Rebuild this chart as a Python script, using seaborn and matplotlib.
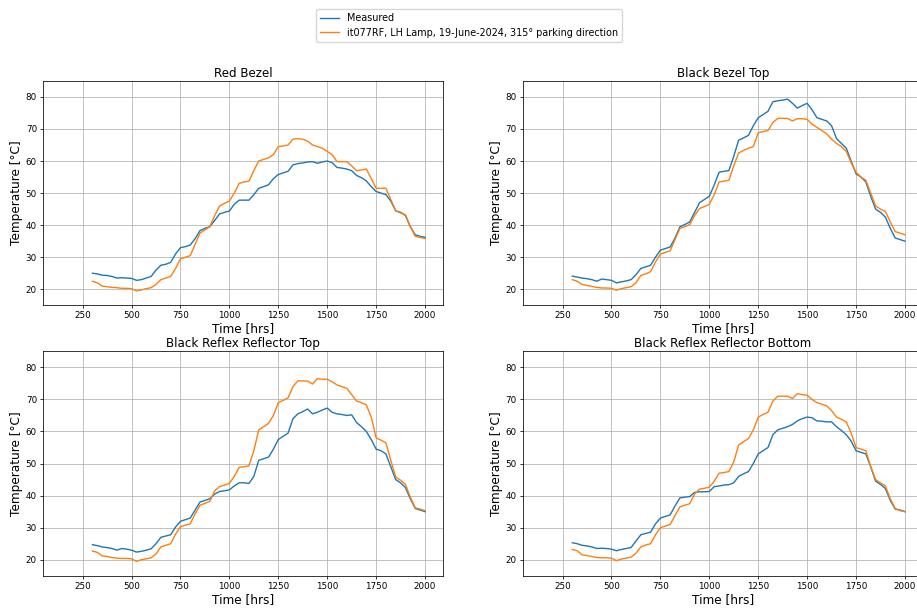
import numpy as np
import pandas as pd
import matplotlib
matplotlib.use("Agg")
import matplotlib.pyplot as plt
import seaborn as sns
from matplotlib.lines import Line2D

# Time axis (hrs), sampled every 25 h
time = np.arange(300, 2025, 25)

# Red Bezel
red_meas = [25.0, 24.8, 24.4, 24.3, 24.0, 23.5, 23.6, 23.5, 23.4, 22.8,
            23.0, 23.5, 24.0, 26.0, 27.5, 27.8, 28.4, 31.0, 33.0, 33.3,
            33.8, 35.8, 38.3, 39.0, 39.5, 41.5, 43.5, 44.0, 44.4, 46.5,
            47.8, 47.8, 47.8, 49.5, 51.5, 52.0, 52.6, 54.5, 55.8, 56.3,
            56.8, 58.8, 59.2, 59.4, 59.7, 59.8, 59.3, 59.7, 60.0, 59.5,
            58.0, 57.8, 57.5, 57.0, 55.5, 54.8, 53.8, 52.0, 50.5, 50.0,
            49.5, 47.5, 44.5, 44.0, 43.0, 39.5, 37.0, 36.5, 36.2]
red_sim = [22.5, 22.0, 21.0, 20.8, 20.6, 20.5, 20.3, 20.3, 20.2, 19.5,
           19.8, 20.2, 20.5, 21.5, 23.0, 23.5, 24.0, 26.5, 29.5, 30.0,
           30.5, 34.0, 37.5, 38.5, 39.5, 43.0, 46.0, 46.8, 47.5, 50.0,
           53.0, 53.5, 53.7, 57.0, 60.0, 60.5, 61.0, 62.0, 64.5, 64.7,
           65.0, 66.8, 67.0, 66.8, 66.2, 65.0, 64.5, 64.0, 63.0, 62.0,
           59.8, 59.8, 59.8, 58.5, 57.0, 57.2, 57.5, 54.5, 51.5, 51.5,
           51.5, 48.0, 44.5, 43.8, 43.2, 39.5, 36.5, 36.2, 35.8]

# Black Bezel Top
bbt_meas = [24.1, 23.8, 23.5, 23.3, 23.0, 22.5, 23.2, 23.0, 22.8, 22.0,
            22.3, 22.6, 23.0, 24.5, 26.5, 27.0, 27.5, 30.0, 32.2, 32.7,
            33.2, 36.0, 39.5, 40.2, 41.0, 44.0, 47.0, 48.0, 49.0, 52.5,
            56.5, 56.8, 57.0, 61.5, 66.5, 67.2, 68.0, 71.0, 73.5, 74.5,
            75.5, 78.5, 78.8, 79.0, 79.3, 78.0, 76.5, 77.3, 78.0, 76.0,
            73.5, 73.0, 72.5, 71.0, 67.0, 65.5, 64.0, 60.0, 56.0, 55.0,
            53.5, 49.0, 45.0, 44.0, 42.5, 39.0, 36.0, 35.5, 35.0]
bbt_sim = [23.0, 22.5, 21.5, 21.2, 20.9, 20.6, 20.4, 20.4, 20.3, 19.7,
           20.2, 20.5, 20.8, 22.0, 24.3, 24.8, 25.5, 28.5, 31.0, 31.5,
           32.0, 35.5, 39.0, 39.5, 40.2, 43.0, 45.2, 45.8, 46.5, 49.5,
           53.5, 53.7, 54.0, 58.5, 62.5, 63.3, 64.0, 64.5, 68.8, 69.2,
           69.5, 72.0, 73.3, 73.3, 73.3, 72.5, 73.2, 73.2, 73.0, 71.5,
           70.5, 69.5, 68.5, 66.8, 65.5, 64.5, 63.0, 59.5, 56.5, 55.0,
           54.0, 50.0, 46.0, 45.0, 44.3, 41.0, 38.0, 37.5, 37.0]

# Black Reflex Reflector Top
brrt_meas = [24.7, 24.4, 24.0, 23.8, 23.5, 23.0, 23.5, 23.3, 23.0, 22.4,
             22.6, 23.0, 23.4, 25.0, 27.0, 27.4, 27.8, 30.2, 32.0, 32.5,
             33.0, 35.5, 38.0, 38.5, 39.0, 40.5, 41.3, 41.5, 41.8, 43.0,
             44.0, 44.0, 43.8, 46.0, 51.0, 51.5, 52.0, 54.5, 57.5, 58.5,
             59.5, 64.0, 65.5, 66.2, 67.0, 65.5, 66.0, 66.7, 67.3, 66.0,
             65.5, 65.3, 65.0, 65.2, 62.8, 61.5, 60.0, 57.5, 54.5, 54.0,
             53.0, 49.0, 45.0, 44.0, 42.5, 39.0, 36.0, 35.5, 35.0]
brrt_sim = [22.7, 22.3, 21.2, 21.0, 20.7, 20.5, 20.4, 20.4, 20.3, 19.5,
            20.0, 20.3, 20.6, 21.8, 24.0, 24.5, 25.0, 28.0, 30.3, 30.8,
            31.2, 34.3, 37.0, 37.6, 38.2, 41.5, 42.8, 43.3, 43.8, 46.0,
            48.8, 49.0, 49.3, 54.0, 60.5, 61.5, 62.5, 65.0, 69.0, 69.7,
            70.5, 74.0, 75.8, 75.8, 75.7, 74.8, 76.5, 76.3, 76.3, 75.5,
            74.5, 74.0, 73.5, 71.5, 69.5, 69.0, 68.3, 64.5, 58.0, 57.3,
            56.5, 51.0, 45.8, 44.8, 43.5, 39.5, 36.2, 35.8, 35.3]

# Black Reflex Reflector Bottom
brrb_meas = [25.3, 25.0, 24.5, 24.3, 24.0, 23.5, 23.6, 23.5, 23.3, 22.8,
             23.2, 23.5, 23.8, 25.8, 27.8, 28.2, 28.6, 31.2, 33.0, 33.5,
             34.0, 36.8, 39.3, 39.5, 39.7, 41.0, 41.2, 41.2, 41.3, 42.8,
             43.0, 43.3, 43.4, 44.0, 46.0, 46.8, 47.5, 50.0, 53.0, 54.0,
             55.0, 59.0, 60.5, 61.0, 61.5, 62.2, 63.3, 64.0, 64.5, 64.3,
             63.3, 63.2, 63.0, 63.0, 61.5, 60.3, 59.0, 57.0, 54.0, 53.5,
             53.0, 49.0, 44.5, 43.5, 42.2, 38.5, 35.8, 35.5, 35.0]
brrb_sim = [23.2, 22.8, 21.5, 21.3, 21.0, 20.7, 20.6, 20.6, 20.5, 19.7,
            20.2, 20.5, 20.8, 22.0, 24.0, 24.6, 25.0, 27.8, 30.0, 30.5,
            31.0, 33.8, 36.5, 37.0, 37.5, 40.5, 42.0, 42.3, 42.6, 44.5,
            47.0, 47.2, 47.5, 50.5, 55.8, 56.8, 57.8, 60.5, 64.5, 65.3,
            66.0, 69.5, 71.0, 71.0, 71.0, 70.3, 71.8, 71.5, 71.3, 70.0,
            69.0, 68.5, 68.0, 66.5, 64.5, 63.8, 63.0, 59.5, 55.0, 54.5,
            54.0, 49.0, 45.0, 44.0, 43.0, 39.0, 36.0, 35.3, 35.0]

titles = ["Red Bezel", "Black Bezel Top",
          "Black Reflex Reflector Top", "Black Reflex Reflector Bottom"]
measured = [red_meas, bbt_meas, brrt_meas, brrb_meas]
simulated = [red_sim, bbt_sim, brrt_sim, brrb_sim]
series_names = ["Measured", "it077RF, LH Lamp, 19-June-2024, 315\u00b0 parking direction"]
colors = ["#1f77b4", "#ff7f0e"]

plt.rcParams.update({
    "font.family": "DejaVu Sans",
    "axes.linewidth": 0.55,
    "xtick.major.width": 0.55,
    "ytick.major.width": 0.55,
    "xtick.major.size": 2.2,
    "ytick.major.size": 2.2,
    "xtick.major.pad": 2.2,
    "ytick.major.pad": 2.2,
    "xtick.labelsize": 6.3,
    "ytick.labelsize": 6.3,
    "grid.linewidth": 0.55,
    "grid.color": "#b0b0b0",
})

fig, axes = plt.subplots(2, 2, figsize=(9.17, 6.08), dpi=100)
fig.subplots_adjust(left=0.047, right=1.0065, bottom=0.053, top=0.867,
                    wspace=0.2, hspace=0.205)

for ax, title, meas, sim in zip(axes.flat, titles, measured, simulated):
    df = pd.DataFrame({
        "Time": np.concatenate([time, time]),
        "Temp": np.concatenate([meas, sim]),
        "Series": [series_names[0]] * len(time) + [series_names[1]] * len(time),
    })
    sns.lineplot(data=df, x="Time", y="Temp", hue="Series",
                 palette=colors, linewidth=1.0, legend=False, ax=ax)
    ax.set_title(title, fontsize=8.6, pad=3)
    ax.set_xlabel("Time [hrs]", fontsize=8.7, labelpad=1.5)
    ax.set_ylabel("Temperature [\u00b0C]", fontsize=8.7, labelpad=2)
    ax.set_xlim(48, 2092)
    ax.set_ylim(15, 85)
    ax.set_xticks([250, 500, 750, 1000, 1250, 1500, 1750, 2000])
    ax.set_yticks([20, 30, 40, 50, 60, 70, 80])
    ax.grid(True)
    ax.set_axisbelow(True)

handles = [Line2D([], [], color=c, linewidth=1.0) for c in colors]
fig.legend(handles, series_names, loc="upper center",
           bbox_to_anchor=(0.5115, 0.985), borderaxespad=0,
           fontsize=6.9, framealpha=0.8, edgecolor="#cccccc")

fig.savefig("out.png", dpi=100)
